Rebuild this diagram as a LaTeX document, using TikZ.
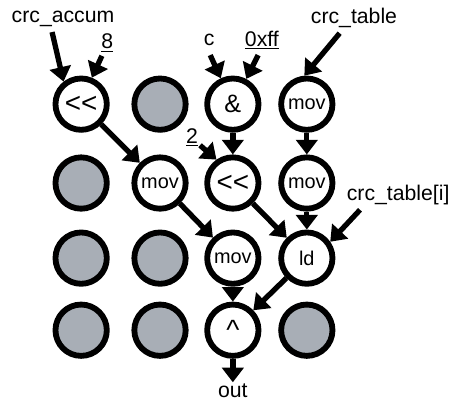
\documentclass[tikz,border=0pt]{standalone}
\usepackage{fontspec}
\setmainfont{Liberation Sans}
\usetikzlibrary{arrows.meta}
\definecolor{idlegray}{RGB}{168,174,182}

\begin{document}
\begin{tikzpicture}[>={Triangle[width=16pt,length=11pt]},
	op/.style={circle, draw, line width=4.4pt, minimum size=1.36cm, inner sep=0pt, fill=white, font=\fontsize{15}{15}\selectfont},
	bigop/.style={op, font=\fontsize{21}{21}\selectfont},
	idle/.style={op, fill=idlegray},
	flow/.style={->, line width=4pt},
	lbl/.style={font=\fontsize{16}{16}\selectfont, inner sep=1pt}]
				\useasboundingbox (0,0) rectangle (12.03,10.68);
				
				% 第一行
				\node[bigop] (shl) at (2.15,7.92) {<{}<};
				\node[idle] (e12) at (4.24,7.92) {};
				\node[bigop, font=\fontsize{19}{19}\selectfont] (and) at (6.17,7.92) {\&};
				\node[op] (movA) at (8.13,7.92) {mov};
				
				% 第二行
				\node[idle] (e21) at (2.15,5.83) {};
				\node[op] (movB) at (4.24,5.83) {mov};
				\node[bigop] (shlB) at (6.17,5.83) {<{}<};
				\node[op] (movC) at (8.13,5.83) {mov};
				
				% 第三行
				\node[idle] (e31) at (2.15,3.84) {};
				\node[idle] (e32) at (4.24,3.84) {};
				\node[op] (movD) at (6.17,3.84) {mov};
				\node[op] (ld) at (8.13,3.84) {ld};
				
				% 第四行
				\node[idle] (e41) at (2.15,1.93) {};
				\node[idle] (e42) at (4.24,1.93) {};
				\node[bigop] (xor) at (6.17,1.93) {\raisebox{-0.3em}{\textasciicircum}};
				\node[idle] (e44) at (8.13,1.93) {};
				
				% 输入与输出标签
				\node[lbl] (accum) at (1.67,10.17) {crc\_accum};
				\node[lbl] (eight) at (2.84,9.54) {\underline{8}};
				\node[lbl] (cin) at (5.54,9.62) {c};
				\node[lbl] (mask) at (6.94,9.62) {\underline{0xff}};
				\node[lbl] (table) at (9.38,10.2) {crc\_table};
				\node[lbl] (two) at (5.09,7.05) {\underline{2}};
				\node[lbl] (entry) at (10.55,5.51) {crc\_table[i]};
				\node[lbl, anchor=north] (out) at (6.17,0.55) {out};
				
				\coordinate (accumEnd) at (1.38,9.83);
				\coordinate (eightEnd) at (2.70,9.20);
				\coordinate (cEnd) at (5.57,9.22);
				\coordinate (maskEnd) at (6.84,9.22);
				\coordinate (tableEnd) at (9.0,9.80);
				\coordinate (twoEnd) at (5.30,6.83);
				\coordinate (entryEnd) at (9.54,5.12);
				
				% 数据流
				\draw[flow] (accumEnd) -- (shl.128);
				\draw[flow] (eightEnd) -- (shl.68);
				\draw[flow] (cEnd) -- (and.115);
				\draw[flow] (maskEnd) -- (and.62);
				\draw[flow] (tableEnd) -- (movA.95);
				\draw[flow] (twoEnd) -- (shlB.125);
				\draw[flow] (entryEnd) -- (ld.35);
				\draw[flow] (shl) -- (movB);
				\draw[flow] (and) -- (shlB);
				\draw[flow] (movA) -- (movC);
				\draw[flow] (movB) -- (movD);
				\draw[flow] (shlB) -- (ld);
				\draw[flow] (movC) -- (ld);
				\draw[flow] (movD) -- (xor);
				\draw[flow] (ld) -- (xor);
				\draw[flow] (xor) -- (out);
			\end{tikzpicture}
\end{document}
